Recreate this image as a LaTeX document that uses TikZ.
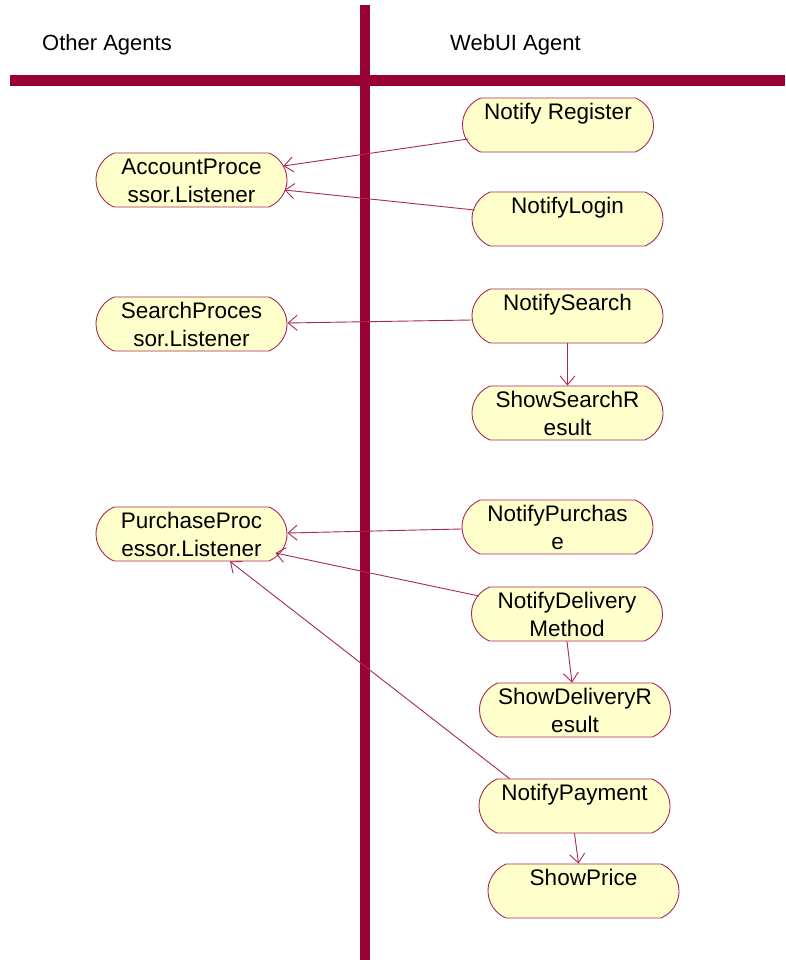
\documentclass[tikz,border=0pt]{standalone}
\usepackage{fontspec}
\setmainfont{Liberation Sans}
\usetikzlibrary{arrows.meta,shapes.misc}

\definecolor{lane}{HTML}{990033}
\definecolor{edge}{HTML}{A8285A}
\definecolor{actfill}{HTML}{FFFFCC}

% two-line activity label with fixed first baseline and total depth
\newcommand\actlabel[2]{\rule{0pt}{21.5pt}#1\\#2\rule[-4.5pt]{0pt}{4.5pt}}

\tikzset{
  activity/.style={draw=edge, fill=actfill, line width=0.9pt,
    rounded rectangle, rounded rectangle arc length=135,
    minimum width=191pt, minimum height=54pt,
    inner sep=0pt, align=center, font=\fontsize{22.5}{28}\selectfont},
  flow/.style={draw=edge, line width=0.9pt,
    -{Straight Barb[length=9pt,width=15pt]}},
  lanebar/.style={draw=lane, line width=10pt},
  lanetitle/.style={font=\fontsize{22}{26}\selectfont, anchor=base west,
    inner sep=0pt}
}

\begin{document}
\begin{tikzpicture}[x=1pt,y=-1pt]
  \useasboundingbox (0,0) rectangle (785,960);
  \fill[white] (0,0) rectangle (785,960);

  % swimlane separators
  \draw[lanebar] (365,5) -- (365,960);
  \draw[lanebar, line width=11pt] (10,80.5) -- (785,80.5);

  % lane titles
  \node[lanetitle] (laneother) at (42,51) {Other Agents};
  \node[lanetitle] (laneweb) at (450,51) {WebUI Agent};

  % listeners in the other agents
  \node[activity] (ap) at (191.5,180) {\actlabel{AccountProce}{ssor.Listener}};
  \node[activity] (sp) at (191.5,324) {\actlabel{SearchProces}{sor.Listener}};
  \node[activity] (pp) at (191.5,534) {\actlabel{PurchaseProc}{essor.Listener}};

  % WebUI agent activities
  \node[activity] (nr) at (558,125) {\actlabel{Notify Register}{}};
  \node[activity] (nl) at (567.5,219) {\actlabel{NotifyLogin}{}};
  \node[activity] (ns) at (567.5,316) {\actlabel{NotifySearch}{}};
  \node[activity] (ssr) at (567.5,413) {\actlabel{ShowSearchR}{esult}};
  \node[activity] (np) at (557.5,527) {\actlabel{NotifyPurchas}{e}};
  \node[activity] (nd) at (567,614) {\actlabel{NotifyDelivery}{Method}};
  \node[activity] (sdr) at (575,710) {\actlabel{ShowDeliveryR}{esult}};
  \node[activity] (npay) at (574.5,806) {\actlabel{NotifyPayment}{}};
  \node[activity] (spr) at (583.5,891) {\actlabel{ShowPrice}{}};

  % notifications to the listeners
  \draw[flow] ([xshift=6pt,yshift=-14pt]nr.west) -- ([xshift=-4pt,yshift=14pt]ap.east);
  \draw[flow] ([xshift=3pt,yshift=9pt]nl.west) -- ([xshift=-3pt,yshift=-10pt]ap.east);
  \draw[flow] ([yshift=-4pt]ns.west) -- ([yshift=1pt]sp.east);
  \draw[flow] ([yshift=-2pt]np.west) -- ([yshift=1pt]pp.east);
  \draw[flow] ([xshift=8pt,yshift=18pt]nd.west) -- ([xshift=-12pt,yshift=-19pt]pp.east);
  \draw[flow] ([xshift=-65pt]npay.north) -- ([xshift=38.5pt]pp.south);

  % transitions inside the WebUI agent
  \draw[flow] (ns.south) -- (ssr.north);
  \draw[flow] (nd.south) -- ([xshift=-3pt]sdr.north);
  \draw[flow] (npay.south) -- ([xshift=-5pt]spr.north);
\end{tikzpicture}
\end{document}
